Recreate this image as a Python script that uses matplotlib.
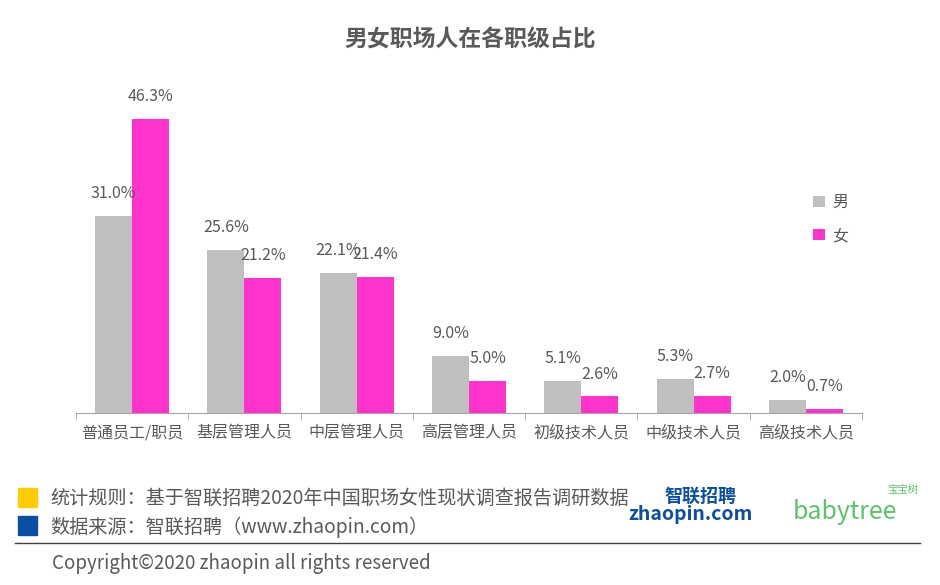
import matplotlib
matplotlib.use("Agg")
import matplotlib.pyplot as plt
import numpy as np
from matplotlib.patches import Rectangle

plt.rcParams['font.family'] = ['Noto Sans CJK SC', 'DejaVu Sans']

categories = ["普通员工/职员", "基层管理人员", "中层管理人员", "高层管理人员", "初级技术人员", "中级技术人员", "高级技术人员"]
male = [31.0, 25.6, 22.1, 9.0, 5.1, 5.3, 2.0]
female = [46.3, 21.2, 21.4, 5.0, 2.6, 2.7, 0.7]
series_names = ["男", "女"]

gray = "#BFBFBF"
pink = "#FF33CC"
tc = "#595959"

fig = plt.figure(figsize=(9.4, 5.85), dpi=100)
ax = fig.add_axes([76/940, 1-413/585, (862-76)/940, (413-60)/585])
x = np.arange(len(categories))
w = 0.33
ax.bar(x - w/2, male, w, color=gray, label=series_names[0])
ax.bar(x + w/2, female, w, color=pink, label=series_names[1])
for xi, m, f in zip(x, male, female):
    ax.text(xi - w/2, m + 2.2, f"{m:.1f}%", ha='center', va='bottom', fontsize=11.5, color=tc)
    ax.text(xi + w/2, f + 2.2, f"{f:.1f}%", ha='center', va='bottom', fontsize=11.5, color=tc)
ax.set_xlim(-0.5, len(categories) - 0.5)
ax.set_ylim(0, (413-60)/6.35)
ax.set_xticks(x)
ax.set_xticklabels(categories, fontsize=11.5, color=tc)
ax.set_xticks(np.arange(len(categories) + 1) - 0.5, minor=True)
ax.tick_params(axis='x', which='major', length=0, pad=8)
ax.tick_params(axis='x', which='minor', length=5, color="#A6A6A6")
ax.set_yticks([])
for s in ['top', 'right', 'left']:
    ax.spines[s].set_visible(False)
ax.spines['bottom'].set_color("#A6A6A6")
leg = ax.legend(loc='upper left', bbox_to_anchor=(0.92, 0.66), frameon=False, fontsize=11.5,
                handlelength=0.7, handleheight=0.7, handletextpad=0.5, labelspacing=1.0)
for t in leg.get_texts():
    t.set_color(tc)

fig.text(470/940, 1-40/585, "男女职场人在各职级占比", ha='center', va='center', fontsize=16.5, fontweight='bold', color=tc)

fig.patches.append(Rectangle((18/940, 1-507/585), 19/940, 19/585, transform=fig.transFigure, color="#FFCC00"))
fig.patches.append(Rectangle((18/940, 1-535/585), 19/940, 19/585, transform=fig.transFigure, color="#0B4EA2"))
fig.text(50/940, 1-498/585, "统计规则：基于智联招聘2020年中国职场女性现状调查报告调研数据", va='center', fontsize=13.8, color=tc)
fig.text(50/940, 1-527/585, "数据来源：智联招聘（www.zhaopin.com）", va='center', fontsize=13.8, color=tc)
fig.lines.append(plt.Line2D([15/940, 920/940], [1-543/585, 1-543/585], transform=fig.transFigure, color="#404040", lw=1))
fig.text(52/940, 1-563/585, "Copyright©2020 zhaopin all rights reserved", va='center', fontsize=13.5, color=tc)

fig.text(700/940, 1-496/585, "智联招聘", ha='center', va='center', fontsize=13, fontweight='bold', color="#0B4EA2")
fig.text(690/940, 1-514/585, "zhaopin.com", ha='center', va='center', fontsize=14, fontweight='bold', style='italic', color="#0B4EA2")
fig.text(845/940, 1-512/585, "babytree", ha='center', va='center', fontsize=18, color="#5CC36B")
fig.text(903/940, 1-490/585, "宝宝树", ha='center', va='center', fontsize=7.5, color="#5CC36B")

fig.savefig("out.png", dpi=100)
